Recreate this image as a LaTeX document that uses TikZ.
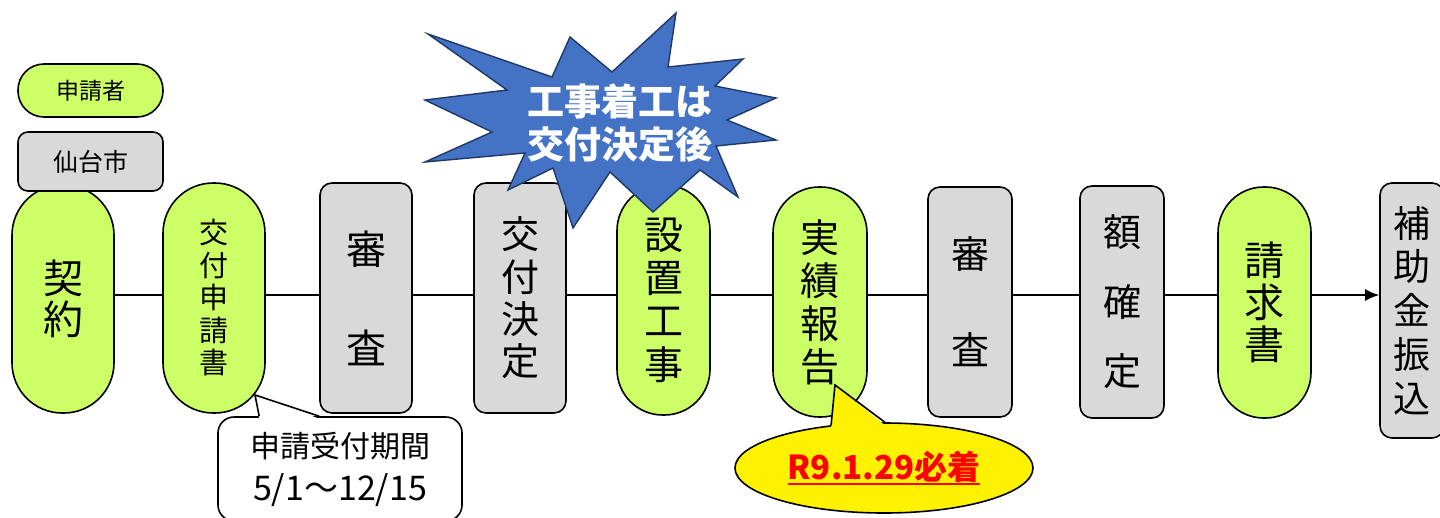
\documentclass[tikz,border=0pt]{standalone}
\usepackage{fontspec}
\setmainfont{Noto Sans CJK JP}
\usetikzlibrary{shapes.geometric,arrows.meta}
\definecolor{appgreen}{HTML}{CCFF66}
\definecolor{citygray}{HTML}{D9D9D9}
\definecolor{burstblue}{HTML}{4472C4}
\definecolor{burstedge}{HTML}{1F3864}
\newcommand{\thickunder}[1]{\setbox0=\hbox{#1}\rlap{\rule[-6pt]{\wd0}{2.4pt}}\box0}

\begin{document}
\begin{tikzpicture}[x=1pt,y=-1pt,
    applicant/.style={draw, line width=1.6pt, fill=appgreen, inner sep=0pt, align=center,
      minimum width=#1pt, rounded corners=#1/2-0.8},
    city/.style={draw, line width=1.6pt, fill=citygray, inner sep=0pt, align=center,
      minimum width=#1pt, rounded corners=12pt},
    note/.style={draw, line width=1.6pt, fill=white, inner sep=0pt, align=center,
      rounded corners=16pt},
    deadline/.style={ellipse, draw, line width=1.6pt, fill=yellow, inner sep=0pt,
      minimum width=298pt, minimum height=90pt, text=red,
      font=\fontsize{33}{33}\selectfont\bfseries},
    burst/.style={fill=burstblue, draw=burstedge, line width=1.4pt, line join=miter}]
    \useasboundingbox (0,0) rectangle (1440,517);
    \clip (0,0) rectangle (1440,517);
    \node[applicant=102, minimum height=228pt, font=\fontsize{40}{41}\selectfont] (keiyaku) at (63,299) {契\\約};
    \node[applicant=102, minimum height=230pt, font=\fontsize{29}{32.5}\selectfont] (shinsei) at (214,298) {交\\付\\申\\請\\書};
    \node[city=92, minimum height=230pt, font=\fontsize{40}{99}\selectfont] (shinsa) at (366,298) {審\\査};
    \node[city=92, minimum height=230pt, font=\fontsize{38}{42.3}\selectfont] (kettei) at (520,298) {交\\付\\決\\定};
    \node[applicant=93, minimum height=230pt, font=\fontsize{39}{43.3}\selectfont] (koji) at (663.5,300) {設\\置\\工\\事};
    \node[applicant=94, minimum height=230pt, font=\fontsize{39}{43}\selectfont] (jisseki) at (820,302) {実\\績\\報\\告};
    \node[city=84, minimum height=230pt, font=\fontsize{38}{96}\selectfont] (kensa) at (970,302) {審\\査};
    \node[city=84, minimum height=232pt, font=\fontsize{38}{69.5}\selectfont] (gakutei) at (1122,302) {額\\確\\定};
    \node[applicant=93, minimum height=231pt, font=\fontsize{40}{42}\selectfont] (seikyu) at (1264.5,302.5) {請\\求\\書};
    \node[city=64, minimum height=255pt, font=\fontsize{37}{43.75}\selectfont] (furikomi) at (1412,310.5) {補\\助\\金\\振\\込};

    \coordinate (row) at (0,295);
    \path[line width=1.6pt]
    (keiyaku.east |- row) edge (shinsei.west |- row)
    (shinsei.east |- row) edge (shinsa.west |- row)
    (shinsa.east |- row)  edge (kettei.west |- row)
    (kettei.east |- row)  edge (koji.west |- row)
    (koji.east |- row)    edge (jisseki.west |- row)
    (jisseki.east |- row) edge (kensa.west |- row)
    (kensa.east |- row)   edge (gakutei.west |- row)
    (gakutei.east |- row) edge (seikyu.west |- row)
    (seikyu.east |- row)  edge[-{Latex[length=14pt, width=12pt]}] (furikomi.west |- row);

    \node[applicant=145, minimum height=53pt, rounded corners=26pt, font=\fontsize{23}{23}\selectfont] (applicantkey) at (90.5,90.5) {申請者};
    \node[city=145, minimum height=59pt, rounded corners=10pt, font=\fontsize{25}{25}\selectfont] (citykey) at (90.5,161.5) {仙台市};

    \filldraw[burst] (428,34) -- (552,77) -- (570,37) -- (612,72) -- (676,13) -- (668,67)
      -- (743,59) -- (715,86) -- (776,98) -- (727,120) -- (776,140) -- (716,146)
      -- (738,197) -- (700,170) -- (653,212) -- (610,172) -- (573,228) -- (553,168)
      -- (508,190) -- (525,153) -- (425,162) -- (492,132) -- (425,100) -- (507,90) -- cycle;
    \node[text=white, align=center, font=\fontsize{37}{43}\selectfont\bfseries] (notice) at (620,123) {工事着工は\\交付決定後};

    \node[note, minimum width=244pt, minimum height=104pt, font=\fontsize{30}{43}\selectfont] (period) at (340,469)
      {申請受付期間\\{\fontsize{34}{43}\selectfont 5/1～12/15}};
    \coordinate (periodtip) at (255,395);
    \fill[white] ([xshift=42pt,yshift=-2.5pt]period.north west) -- (periodtip) -- ([xshift=102pt,yshift=-2.5pt]period.north west) -- cycle;
    \draw[line width=1.6pt] ([xshift=42pt]period.north west) -- (periodtip) -- ([xshift=102pt]period.north west);

    \node[deadline] (due) at (884,468) {\thickunder{R9.1.29必着}};
    \coordinate (duetip) at (835,385);
    \fill[yellow] ([yshift=-3pt]due.141) -- (duetip) -- ([yshift=-3pt]due.89) -- cycle;
    \draw[line width=1.6pt] (due.141) -- (duetip) -- (due.89);
\end{tikzpicture}
\end{document}
